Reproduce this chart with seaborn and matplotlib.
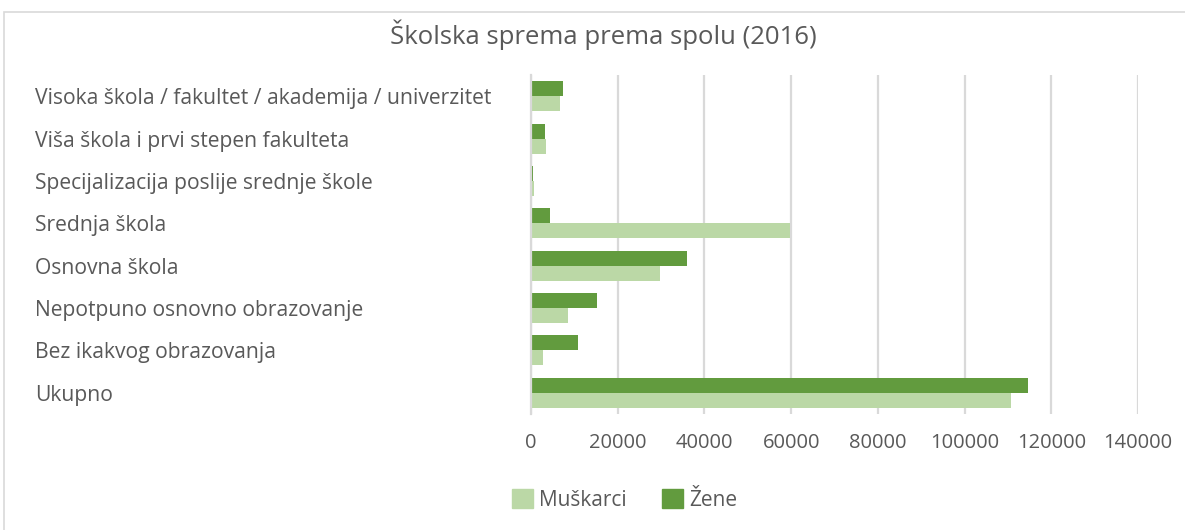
import matplotlib
matplotlib.use("Agg")
import matplotlib.pyplot as plt
import matplotlib.patches as mpatches
import seaborn as sns
import pandas as pd

categories = [
    "Visoka škola / fakultet / akademija / univerzitet",
    "Viša škola i prvi stepen fakulteta",
    "Specijalizacija poslije srednje škole",
    "Srednja škola",
    "Osnovna škola",
    "Nepotpuno osnovno obrazovanje",
    "Bez ikakvog obrazovanja",
    "Ukupno",
]
muskarci = [6700, 3450, 700, 59750, 29750, 8500, 2750, 110700]
zene = [7400, 3250, 450, 4400, 36000, 15250, 10850, 114650]
series_names = ["Muškarci", "Žene"]
x_ticks = [0, 20000, 40000, 60000, 80000, 100000, 120000, 140000]
title = "Školska sprema prema spolu (2016)"

c_light = "#BBD8A6"
c_dark = "#629B3E"
txt = "#595959"

rows = []
for c, m, z in zip(categories, muskarci, zene):
    rows.append({"cat": c, "spol": series_names[1], "val": z})
    rows.append({"cat": c, "spol": series_names[0], "val": m})
df = pd.DataFrame(rows)

sns.set_style("white")
plt.rcParams["font.family"] = ["Open Sans", "DejaVu Sans"]

fig = plt.figure(figsize=(11.85, 5.30), dpi=100)
ax = fig.add_axes([531/1185, 1-414/530, (1138-531)/1185, (414-75)/530])

sns.barplot(data=df, y="cat", x="val", hue="spol", order=categories,
            hue_order=[series_names[1], series_names[0]],
            palette={series_names[1]: c_dark, series_names[0]: c_light},
            orient="h", width=0.71, saturation=1, linewidth=0, ax=ax, legend=False)

ax.set_xlim(0, 140000)
ax.set_xticks(x_ticks)
ax.set_xticklabels([str(t) for t in x_ticks], fontsize=14.5, color=txt)
ax.grid(axis="x", color="#D9D9D9", linewidth=1.6)
ax.set_axisbelow(True)
for s in ["top", "right", "bottom"]:
    ax.spines[s].set_visible(False)
ax.spines["left"].set_color("#D9D9D9")
ax.spines["left"].set_linewidth(1.6)
ax.tick_params(axis="x", length=0, pad=14)
ax.tick_params(axis="y", length=0, pad=(531-35)*0.72)
for lab in ax.get_yticklabels():
    lab.set_ha("left")
    lab.set_fontsize(15.2)
    lab.set_color(txt)
ax.set_xlabel("")
ax.set_ylabel("")

fig.text(603/1185, 1-35/530, title, ha="center", va="center", fontsize=18.5, color=txt)

handles = [mpatches.Patch(color=c_light, label=series_names[0]),
           mpatches.Patch(color=c_dark, label=series_names[1])]
fig.legend(handles=handles, loc="center", bbox_to_anchor=(625/1185, 1-500/530), ncol=2,
           frameon=False, fontsize=15, handlelength=1.0, handleheight=1.0,
           columnspacing=1.7, handletextpad=0.3, labelcolor=txt)

fig.patches.append(mpatches.Rectangle((4/1185, -0.01), 1.2, 1-12/530+0.01, transform=fig.transFigure,
                                      fill=False, edgecolor="#D9D9D9", linewidth=1.2))

fig.savefig("out.png", dpi=100, facecolor="white")
